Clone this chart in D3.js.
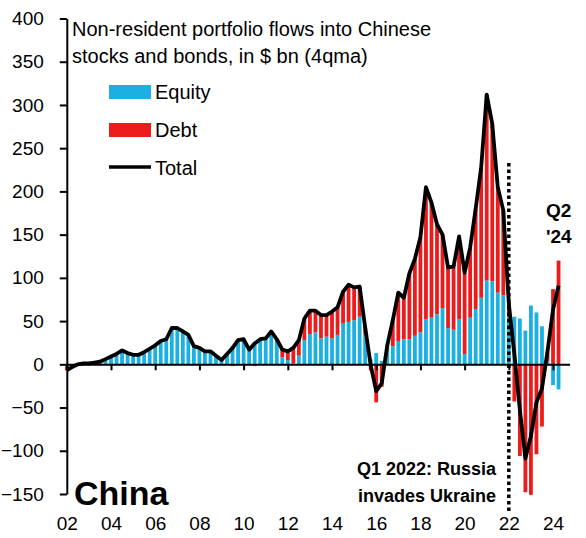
<!DOCTYPE html>
<html lang="en">
<head>
<meta charset="utf-8">
<script src="https://d3js.org/d3.v7.min.js"></script>
<style>
  body { margin: 0; background: #fff; }
  svg text { font-family: "Liberation Sans", Arial, sans-serif; fill: #000; }
</style>
</head>
<body>
<div id="chart"></div>
<script>
// quarterly 4qma flows, $ bn, 2002Q1 .. 2024Q2
const equity = [
  -3, -1, 1, 1,   2, 2, 4, 6,   9, 12, 16, 14,   11, 11, 14, 18,
  22, 27, 30, 42,   42, 38, 34, 21,   19, 15, 15, 10,   5, 12, 21, 28,
  29, 17, 26, 29,   30, 38, 27, 8,   5, 1, 10, 28,   35, 37, 30, 32,
  30, 34, 47, 49,   51, 55, 35, 6,   13, 4, 18, 21,   27, 29, 29, 33,
  37, 52, 54, 58,   65, 42, 40, 52,   12, 54, 64, 77,   97, 96, 83, 80,
  55, 55, 53, 39,   68, 60, 44, 4,   -24, -29
];
const debt = [
  -4, -2, -1, 0,   -1, 0, -1, 0,   0, 0, 0, -1,   0, 0, 0, 0,
  0, 0, -1, 0,   0, 0, 0, 0,   0, 0, 0, 0,   0, 0, -2, 0,
  0, 0, -2, 0,   0, 0, 2, 9,   10, 18, 18, 25,   27, 25, 27, 25,
  31, 32, 37, 43,   38, 35, 8, -7,   -44, -26, 4, 30,   56, 48, 76, 89,
  110, 153, 133, 104,   85, 70, 73, 96,   94, 81, 116, 151,   215, 182, 122, 98,
  15, -43, -106, -148,   -151, -104, -72, 11,   87, 120
];
const total = [
  -7, -3, 0, 1,   1, 2, 3, 6,   9, 12, 16, 13,   11, 11, 14, 18,
  22, 27, 29, 42,   42, 38, 34, 21,   19, 15, 15, 10,   5, 12, 19, 28,
  29, 17, 24, 29,   30, 38, 29, 17,   15, 19, 28, 53,   62, 62, 57, 57,
  61, 66, 84, 92,   89, 90, 43, -1,   -31, -22, 22, 51,   83, 77, 105, 122,
  147, 205, 187, 162,   150, 112, 113, 148,   106, 135, 180, 228,   312, 278, 205, 178,
  70, 12, -53, -109,   -83, -44, -28, 15,   63, 91
];
const yTicks = [-150, -100, -50, 0, 50, 100, 150, 200, 250, 300, 350, 400];
const xTickLabels = ["02", "04", "06", "08", "10", "12", "14", "16", "18", "20", "22", "24"];

const quarters = [];
for (let yr = 2002; yr <= 2024; yr++) {
  for (let q = 1; q <= 4; q++) {
    if (quarters.length < total.length) quarters.push(yr + "Q" + q);
  }
}

const W = 586, H = 538;
const svg = d3.select("#chart").append("svg")
  .attr("width", W).attr("height", H);

// x: quarter index, bars centred on their quarter
const x = d3.scaleLinear().domain([0, 91]).range([66.8, 569.6]);
const y = d3.scaleLinear().domain([-150, 400]).range([494, 18.5]);
const barW = 3.8;

const rows = quarters.map((q, i) => ({ q: q, i: i, Equity: equity[i], Debt: debt[i] }));
const series = d3.stack()
  .keys(["Equity", "Debt"])
  .offset(d3.stackOffsetDiverging)(rows);
const colour = { Equity: "#1CB0E2", Debt: "#EC1C1C" };

svg.append("g").selectAll("g")
  .data(series)
  .join("g")
  .attr("fill", d => colour[d.key])
  .selectAll("rect")
  .data(d => d)
  .join("rect")
  .attr("x", d => x(d.data.i) - barW / 2)
  .attr("y", d => y(Math.max(d[0], d[1])))
  .attr("width", barW)
  .attr("height", d => Math.abs(y(d[0]) - y(d[1])));

// y axis
const yAxis = svg.append("g")
  .attr("transform", `translate(${x(0)},0)`)
  .call(d3.axisLeft(y).tickValues(yTicks).tickSize(7).tickSizeOuter(0).tickPadding(16));
yAxis.selectAll("text").attr("font-family", null).style("font-size", "19px");
yAxis.selectAll("line, path").attr("stroke", "#000").attr("stroke-width", 2);
yAxis.attr("font-family", null).attr("font-size", null);

// x axis line at zero, tick marks only
const xTickIdx = xTickLabels.map((d, k) => k * 8);
const xAxis = svg.append("g")
  .attr("transform", `translate(0,${y(0)})`)
  .call(d3.axisBottom(x).tickValues(xTickIdx).tickSize(6).tickSizeOuter(0).tickFormat(""));
xAxis.selectAll("line, path").attr("stroke", "#000").attr("stroke-width", 2);

// x labels along the bottom
const xLab = svg.append("g")
  .attr("transform", "translate(0,516)")
  .call(d3.axisBottom(x).tickValues(xTickIdx).tickSize(0).tickPadding(0)
    .tickFormat((d, k) => xTickLabels[k]));
xLab.select(".domain").remove();
xLab.attr("font-family", null).attr("font-size", null);
xLab.selectAll("text").style("font-size", "19px");

// Russia invasion marker, 2022Q1
svg.append("line")
  .attr("x1", x(80)).attr("x2", x(80))
  .attr("y1", 163).attr("y2", 514)
  .attr("stroke", "#000").attr("stroke-width", 3.5)
  .attr("stroke-dasharray", "3.5,3");

// total line
svg.append("path")
  .datum(total)
  .attr("fill", "none")
  .attr("stroke", "#000")
  .attr("stroke-width", 3.8)
  .attr("stroke-linejoin", "round")
  .attr("d", d3.line().x((d, i) => x(i)).y(d => y(d)));

// title
svg.append("text").attr("x", 72).attr("y", 36).style("font-size", "20px")
  .text("Non-resident portfolio flows into Chinese");
svg.append("text").attr("x", 72).attr("y", 63).style("font-size", "20px")
  .text("stocks and bonds, in $ bn (4qma)");

// legend
const legend = svg.append("g");
legend.append("rect").attr("x", 109).attr("y", 85).attr("width", 42).attr("height", 14).attr("fill", colour.Equity);
legend.append("rect").attr("x", 109).attr("y", 123).attr("width", 42).attr("height", 14).attr("fill", colour.Debt);
legend.append("line").attr("x1", 109).attr("x2", 151).attr("y1", 167).attr("y2", 167)
  .attr("stroke", "#000").attr("stroke-width", 3.5);
legend.append("text").attr("x", 155).attr("y", 99).style("font-size", "20px").text("Equity");
legend.append("text").attr("x", 155).attr("y", 137).style("font-size", "20px").text("Debt");
legend.append("text").attr("x", 155).attr("y", 175).style("font-size", "20px").text("Total");

// annotations
svg.append("text").attr("x", 496).attr("y", 475).attr("text-anchor", "end")
  .style("font-size", "18px").style("font-weight", "bold").text("Q1 2022: Russia");
svg.append("text").attr("x", 496).attr("y", 502).attr("text-anchor", "end")
  .style("font-size", "18px").style("font-weight", "bold").text("invades Ukraine");
svg.append("text").attr("x", 546).attr("y", 217)
  .style("font-size", "19px").style("font-weight", "bold").text("Q2");
svg.append("text").attr("x", 546).attr("y", 243)
  .style("font-size", "19px").style("font-weight", "bold").text("'24");
svg.append("text").attr("x", 74).attr("y", 505)
  .style("font-size", "34px").style("font-weight", "bold").text("China");
</script>
</body>
</html>
